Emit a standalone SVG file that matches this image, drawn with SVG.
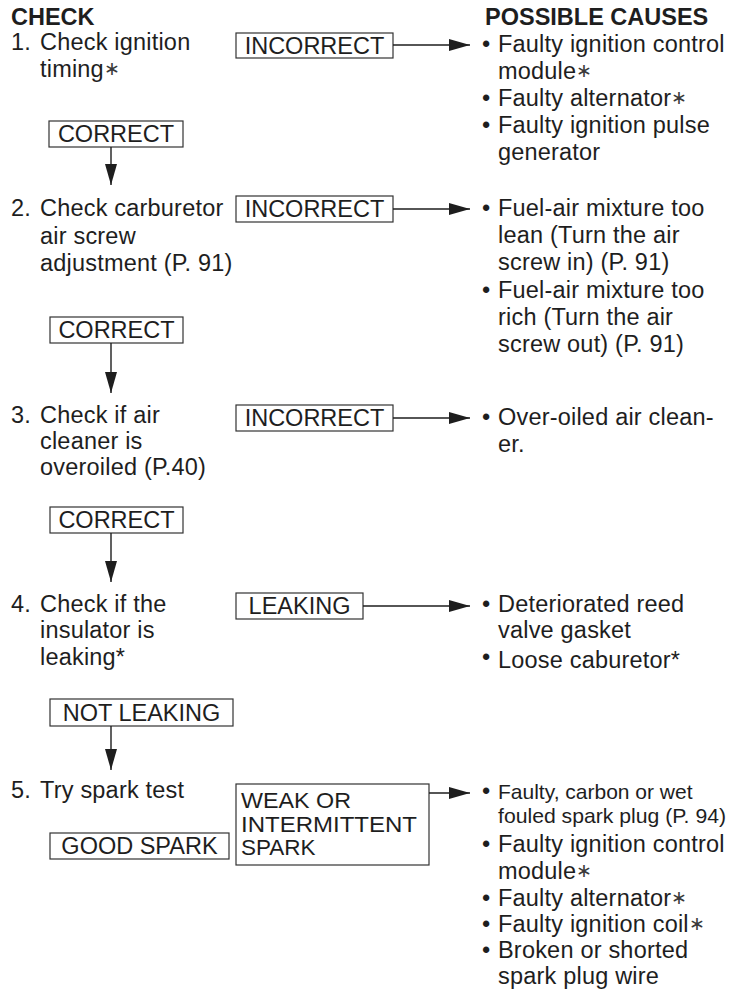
<svg xmlns="http://www.w3.org/2000/svg" width="729" height="991" viewBox="0 0 729 991">
<style>
  text { font-family: "Liberation Sans", Arial, Helvetica, sans-serif; font-size: 23.5px; fill: #1e1e1e; letter-spacing: 0.2px; }
  .hd { font-weight: bold; letter-spacing: 0; }
  .c { text-anchor: middle; letter-spacing: 0; }
  .sm { font-size: 21px; letter-spacing: 0; }
  .wk { font-size: 22.5px; letter-spacing: 0; }
  .ast { font-size: 19px; fill: #3a3a3a; }
  .box { fill: #ffffff; stroke: #333333; stroke-width: 1.2; }
  .ln { stroke: #1e1e1e; stroke-width: 1.4; fill: none; }
</style>
<defs>
  <marker id="ah" markerUnits="userSpaceOnUse" markerWidth="21" markerHeight="12" refX="21" refY="6" orient="auto">
    <path d="M0,0 L21,6 L0,12 Z" fill="#1e1e1e"/>
  </marker>
</defs>
<rect x="0" y="0" width="729" height="991" fill="#ffffff"/>

<g id="headers">
  <text class="hd" x="11" y="25">CHECK</text>
  <text class="hd" x="485" y="25">POSSIBLE CAUSES</text>
</g>

<!-- Step 1 -->
<g id="step1">
  <text x="11" y="50">1.</text>
  <text x="40" y="50">Check ignition</text>
  <text x="40" y="77">timing<tspan class="ast" dy="-2">∗</tspan></text>
</g>
<g id="incorrect1">
  <rect class="box" x="236" y="33" width="157" height="25"/>
  <text class="c" x="314.5" y="54">INCORRECT</text>
</g>
<g id="causes1">
  <text x="482" y="52">•</text><text x="498" y="52">Faulty ignition control</text>
  <text x="498" y="79">module<tspan class="ast" dy="-2">∗</tspan></text>
  <text x="482" y="106">•</text><text x="498" y="106">Faulty alternator<tspan class="ast" dy="-2">∗</tspan></text>
  <text x="482" y="133">•</text><text x="498" y="133">Faulty ignition pulse</text>
  <text x="498" y="160">generator</text>
</g>
<g id="correct1">
  <rect class="box" x="49" y="121" width="134" height="26"/>
  <text class="c" x="116" y="142">CORRECT</text>
</g>

<!-- Step 2 -->
<g id="step2">
  <text x="11" y="216">2.</text>
  <text x="40" y="216">Check carburetor</text>
  <text x="40" y="244">air screw</text>
  <text x="40" y="271">adjustment (P. 91)</text>
</g>
<g id="incorrect2">
  <rect class="box" x="236" y="196" width="157" height="26"/>
  <text class="c" x="314.5" y="217">INCORRECT</text>
</g>
<g id="causes2">
  <text x="482" y="216">•</text><text x="498" y="216">Fuel-air mixture too</text>
  <text x="498" y="243">lean (Turn the air</text>
  <text x="498" y="270">screw in) (P. 91)</text>
  <text x="482" y="298">•</text><text x="498" y="298">Fuel-air mixture too</text>
  <text x="498" y="325">rich (Turn the air</text>
  <text x="498" y="352">screw out) (P. 91)</text>
</g>
<g id="correct2">
  <rect class="box" x="50" y="317" width="133" height="26"/>
  <text class="c" x="116.5" y="338">CORRECT</text>
</g>

<!-- Step 3 -->
<g id="step3">
  <text x="11" y="423">3.</text>
  <text x="40" y="423">Check if air</text>
  <text x="40" y="449">cleaner is</text>
  <text x="40" y="475">overoiled (P.40)</text>
</g>
<g id="incorrect3">
  <rect class="box" x="236" y="405" width="157" height="26"/>
  <text class="c" x="314.5" y="426">INCORRECT</text>
</g>
<g id="causes3">
  <text x="482" y="425">•</text><text x="498" y="425">Over-oiled air clean-</text>
  <text x="498" y="452">er.</text>
</g>
<g id="correct3">
  <rect class="box" x="50" y="507" width="133" height="26"/>
  <text class="c" x="116.5" y="528">CORRECT</text>
</g>

<!-- Step 4 -->
<g id="step4">
  <text x="11" y="612">4.</text>
  <text x="40" y="612">Check if the</text>
  <text x="40" y="638">insulator is</text>
  <text x="40" y="665">leaking*</text>
</g>
<g id="leaking">
  <rect class="box" x="236" y="593" width="127" height="26"/>
  <text class="c" x="299.5" y="614">LEAKING</text>
</g>
<g id="causes4">
  <text x="482" y="612">•</text><text x="498" y="612">Deteriorated reed</text>
  <text x="498" y="638">valve gasket</text>
  <text x="482" y="665">•</text><text x="498" y="668">Loose caburetor*</text>
</g>
<g id="notleaking">
  <rect class="box" x="50" y="699" width="183" height="27"/>
  <text class="c" x="141.5" y="721">NOT LEAKING</text>
</g>

<!-- Step 5 -->
<g id="step5">
  <text x="11" y="798">5.</text>
  <text x="40" y="798">Try spark test</text>
</g>
<g id="goodspark">
  <rect class="box" x="50" y="833" width="179" height="26"/>
  <text class="c" x="139.5" y="854">GOOD SPARK</text>
</g>
<g id="weakspark">
  <rect class="box" x="236" y="784" width="193" height="81"/>
  <text class="wk" x="241" y="808" textLength="110" lengthAdjust="spacingAndGlyphs">WEAK OR</text>
  <text class="wk" x="241" y="832" textLength="176" lengthAdjust="spacingAndGlyphs">INTERMITTENT</text>
  <text class="wk" x="241" y="855">SPARK</text>
</g>
<g id="causes5">
  <text x="482" y="799">•</text><text class="sm" x="498" y="799">Faulty, carbon or wet</text>
  <text class="sm" x="498" y="823" textLength="228" lengthAdjust="spacingAndGlyphs">fouled spark plug (P. 94)</text>
  <text x="482" y="852">•</text><text x="498" y="852">Faulty ignition control</text>
  <text x="498" y="879">module<tspan class="ast" dy="-2">∗</tspan></text>
  <text x="482" y="906">•</text><text x="498" y="906">Faulty alternator<tspan class="ast" dy="-2">∗</tspan></text>
  <text x="482" y="932">•</text><text x="498" y="932">Faulty ignition coil<tspan class="ast" dy="-2">∗</tspan></text>
  <text x="482" y="958">•</text><text x="498" y="958">Broken or shorted</text>
  <text x="498" y="984">spark plug wire</text>
</g>

<g id="connectors">
  <line class="ln" x1="393" y1="45" x2="470" y2="45" marker-end="url(#ah)"/>
  <line class="ln" x1="393" y1="209" x2="470" y2="209" marker-end="url(#ah)"/>
  <line class="ln" x1="393" y1="418" x2="470" y2="418" marker-end="url(#ah)"/>
  <line class="ln" x1="363" y1="606" x2="470" y2="606" marker-end="url(#ah)"/>
  <line class="ln" x1="429" y1="793" x2="470" y2="793" marker-end="url(#ah)"/>
  <line class="ln" x1="111" y1="147" x2="111" y2="185" marker-end="url(#ah)"/>
  <line class="ln" x1="111" y1="343" x2="111" y2="393" marker-end="url(#ah)"/>
  <line class="ln" x1="111" y1="533" x2="111" y2="582" marker-end="url(#ah)"/>
  <line class="ln" x1="111" y1="726" x2="111" y2="770" marker-end="url(#ah)"/>
</g>
</svg>
